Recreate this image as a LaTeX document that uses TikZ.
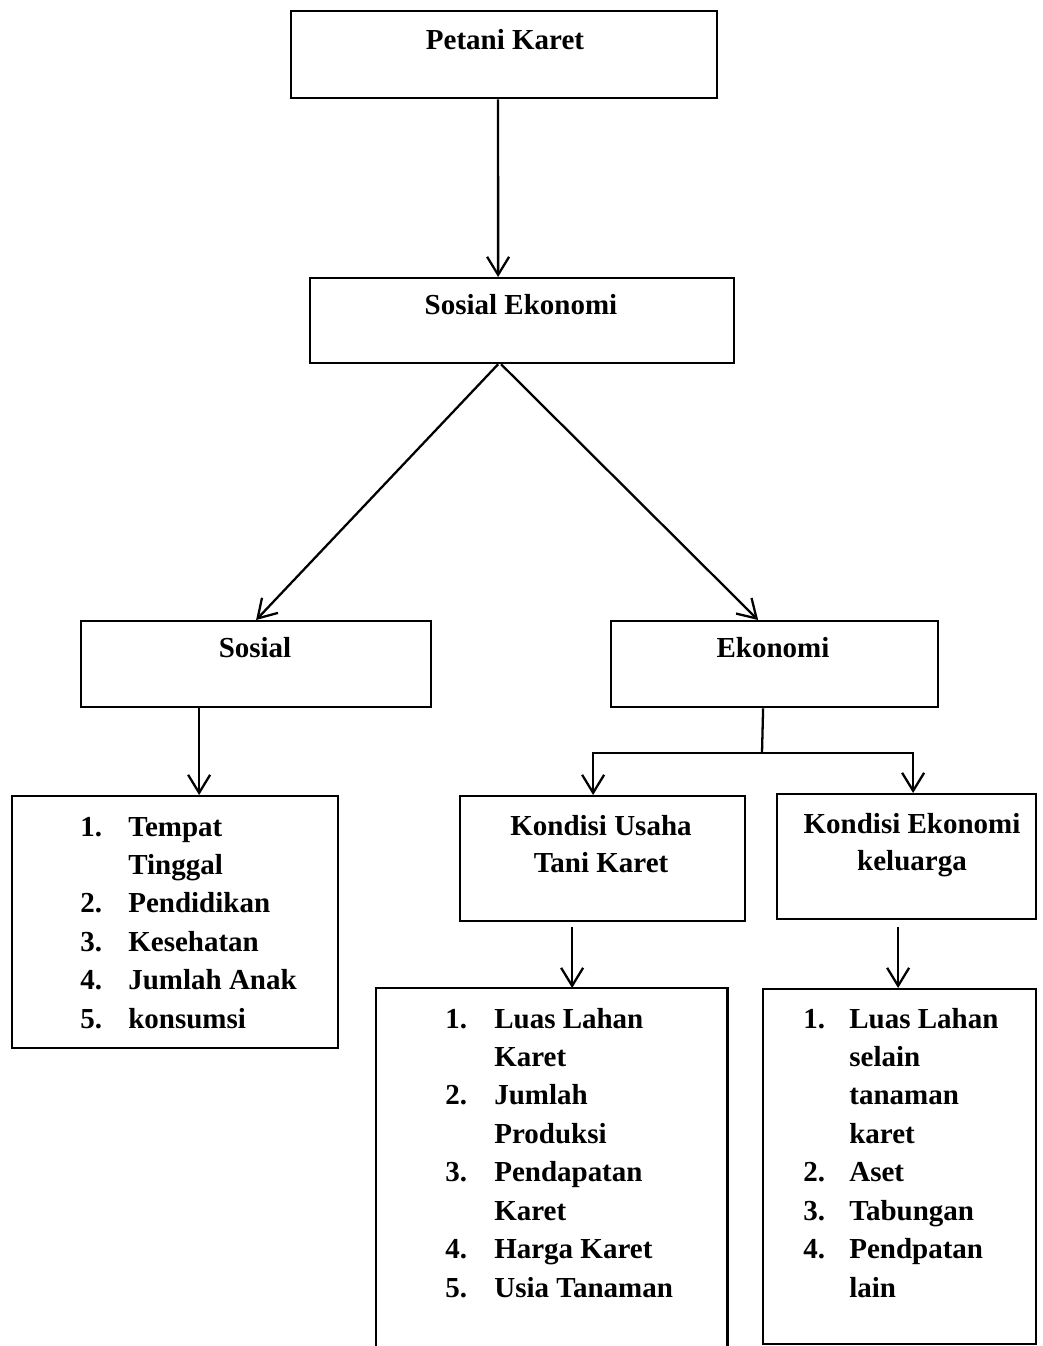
\documentclass[tikz,border=0pt]{standalone}
\usepackage{fontspec}
\setmainfont{Liberation Serif}
\usepackage{tikz}
\usetikzlibrary{arrows.meta}

\tikzset{
	box/.style={draw, line width=1.3pt, inner sep=0pt},
	title/.style={font=\fontsize{16.5}{21}\selectfont\bfseries, align=center, inner sep=0pt},
	items/.style={font=\fontsize{16.5}{21.9}\selectfont\bfseries, inner sep=0pt, anchor=base west},
	arr/.style={line width=1.3pt, -{Straight Barb[length=0.36cm, width=0.44cm, line width=1.3pt]}}
}

\begin{document}
\begin{tikzpicture}[x=0.02cm, y=-0.02cm]
		\useasboundingbox (0,0) rectangle (1043,1346);
		%Kotak atas
		\node[box, anchor=north west, minimum width=8.52cm, minimum height=1.74cm] (petani) at (290,10) {};
		\node[title] (petanit) at (505,40) {Petani Karet};
		\node[box, anchor=north west, minimum width=8.48cm, minimum height=1.70cm] (sosek) at (309,277) {};
		\node[title] (sosekt) at (521,305) {Sosial Ekonomi};
		\node[box, anchor=north west, minimum width=7.00cm, minimum height=1.72cm] (sosial) at (80,620) {};
		\node[title] (sosialt) at (255,648) {Sosial};
		\node[box, anchor=north west, minimum width=6.54cm, minimum height=1.72cm] (ekonomi) at (610,620) {};
		\node[title] (ekonomit) at (773,648) {Ekonomi};
		\node[box, anchor=north west, minimum width=5.70cm, minimum height=2.50cm] (usaha) at (459,795) {};
		\node[title] (usahat) at (601,844) {Kondisi Usaha\\Tani Karet};
		\node[box, anchor=north west, minimum width=5.18cm, minimum height=2.50cm] (keluarga) at (776,793) {};
		\node[title] (keluargat) at (912,845) {Kondisi Ekonomi\\keluarga};
		%Kotak daftar
		\node[box, anchor=north west, minimum width=6.52cm, minimum height=5.04cm] (lsosial) at (11,795) {};
		\node[items] (lsosialt) at (80,836) {\begin{tabular}[t]{@{}p{0.96cm}@{}l@{}}
			1. & Tempat\\ & Tinggal\\ 2. & Pendidikan\\ 3. & Kesehatan\\ 4. & Jumlah Anak\\ 5. & konsumsi
		\end{tabular}};
		\node[anchor=north west, inner sep=0pt, minimum width=7.02cm, minimum height=7.20cm] (lusaha) at (376,988) {};
		\draw[line width=1.3pt] (lusaha.south west) -- (lusaha.north west) -- (lusaha.north east) -- (lusaha.south east);
		\node[items] (lusahat) at (445,1028) {\begin{tabular}[t]{@{}p{0.98cm}@{}l@{}}
			1. & Luas Lahan\\ & Karet\\ 2. & Jumlah\\ & Produksi\\ 3. & Pendapatan\\ & Karet\\ 4. & Harga Karet\\ 5. & Usia Tanaman
		\end{tabular}};
		\node[box, anchor=north west, minimum width=5.46cm, minimum height=7.10cm] (lkeluarga) at (762,988) {};
		\node[items] (lkeluargat) at (803,1028) {\begin{tabular}[t]{@{}p{0.92cm}@{}l@{}}
			1. & Luas Lahan\\ & selain\\ & tanaman\\ & karet\\ 2. & Aset\\ 3. & Tabungan\\ 4. & Pendpatan\\ & lain
		\end{tabular}};
		%Panah
		\draw[arr] ([xshift=-0.12cm]petani.south) -- ([xshift=-0.48cm]sosek.north);
		\draw[arr] ([xshift=-0.48cm]sosek.south) -- (sosial.north);
		\draw[arr] ([xshift=-0.42cm]sosek.south) -- ([xshift=-0.33cm]ekonomi.north);
		\draw[arr] ([xshift=-1.14cm]sosial.south) coordinate (s1) -- (s1 |- lsosial.north);
		\coordinate (cabang) at (762,753);
		\draw[line width=1.3pt] ([xshift=-0.23cm]ekonomi.south) -- (cabang);
		\draw[arr] (cabang) -| ([xshift=-0.19cm]usaha.north);
		\draw[arr] (cabang) -| ([xshift=0.13cm]keluarga.north);
		\draw[arr] ([xshift=-0.61cm, yshift=-0.1cm]usaha.south) coordinate (u1) -- (u1 |- lusaha.north);
		\draw[arr] ([xshift=-0.17cm, yshift=-0.14cm]keluarga.south) coordinate (k1) -- (k1 |- lkeluarga.north);
\end{tikzpicture}
\end{document}
